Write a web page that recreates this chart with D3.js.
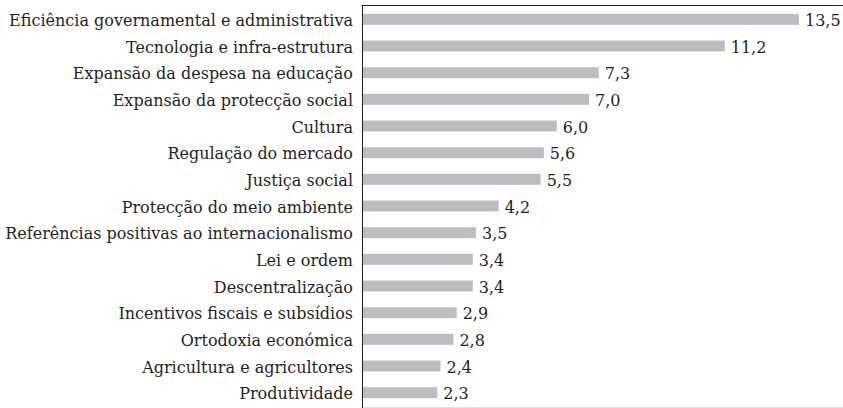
<!DOCTYPE html>
<html>
<head>
<meta charset="utf-8">
<script src="https://cdn.jsdelivr.net/npm/d3@7"></script>
<style>
  body { margin: 0; background: #fff; }
</style>
</head>
<body>
<svg width="843" height="408"></svg>
<script>
// data
var categories = [
  "Eficiência governamental e administrativa",
  "Tecnologia e infra-estrutura",
  "Expansão da despesa na educação",
  "Expansão da protecção social",
  "Cultura",
  "Regulação do mercado",
  "Justiça social",
  "Protecção do meio ambiente",
  "Referências positivas ao internacionalismo",
  "Lei e ordem",
  "Descentralização",
  "Incentivos fiscais e subsídios",
  "Ortodoxia económica",
  "Agricultura e agricultores",
  "Produtividade"
];
var values = [13.5, 11.2, 7.3, 7.0, 6.0, 5.6, 5.5, 4.2, 3.5, 3.4, 3.4, 2.9, 2.8, 2.4, 2.3];

var svg = d3.select("svg");
var plotLeft = 363, plotTop = 6, plotBottom = 406, plotRight = 843;
var serif = "'DejaVu Serif', serif";

var x = d3.scaleLinear().domain([0, 13.5]).range([plotLeft, 799]);
var y = d3.scaleBand().domain(categories).range([plotTop, plotBottom])
    .paddingInner(0.59).paddingOuter(0.295);

var fmt = function (v) { return v.toFixed(1).replace(".", ","); };

// bars
svg.selectAll(".bar")
  .data(values)
  .enter().append("rect")
  .attr("class", "bar")
  .attr("x", x(0))
  .attr("y", function (d, i) { return y(categories[i]); })
  .attr("width", function (d) { return x(d) - x(0); })
  .attr("height", y.bandwidth())
  .attr("fill", "#bcbdc0");

// value labels
svg.selectAll(".val")
  .data(values)
  .enter().append("text")
  .attr("class", "val")
  .attr("x", function (d) { return x(d) + 6; })
  .attr("y", function (d, i) { return y(categories[i]) + y.bandwidth() / 2 + 6.5; })
  .attr("font-family", serif)
  .attr("font-size", "16px")
  .attr("fill", "#231f20")
  .text(fmt);

// category labels
svg.selectAll(".cat")
  .data(categories)
  .enter().append("text")
  .attr("class", "cat")
  .attr("x", plotLeft - 10)
  .attr("y", function (d) { return y(d) + y.bandwidth() / 2 + 6.5; })
  .attr("text-anchor", "end")
  .attr("font-family", serif)
  .attr("font-size", "16px")
  .attr("fill", "#231f20")
  .text(function (d) { return d; });

// frame lines
svg.append("line")
  .attr("x1", plotLeft - 1.5).attr("x2", plotRight)
  .attr("y1", plotTop - 0.5).attr("y2", plotTop - 0.5)
  .attr("stroke", "#231f20").attr("stroke-width", 1);
svg.append("line")
  .attr("x1", plotLeft - 1.5).attr("x2", plotRight)
  .attr("y1", 407.5).attr("y2", 407.5)
  .attr("stroke", "#e2e2e2").attr("stroke-width", 1);
svg.append("line")
  .attr("x1", plotLeft - 0.5).attr("x2", plotLeft - 0.5)
  .attr("y1", plotTop - 1).attr("y2", 408)
  .attr("stroke", "#231f20").attr("stroke-width", 1);
</script>
</body>
</html>
